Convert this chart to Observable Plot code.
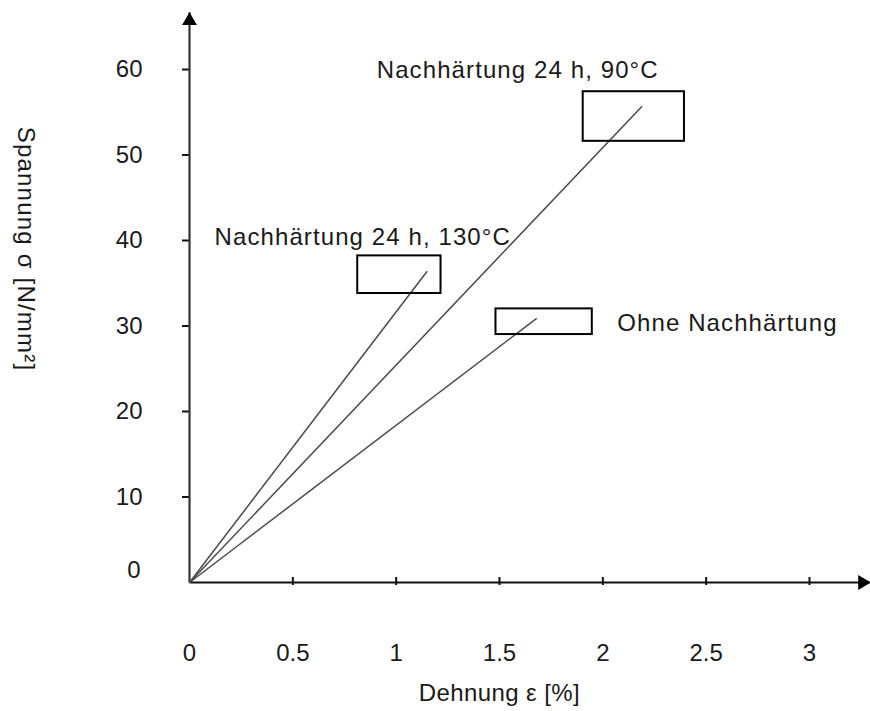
<!DOCTYPE html>
<html>
<head>
<meta charset="utf-8">
<script src="https://cdn.jsdelivr.net/npm/d3@7"></script>
<script src="https://cdn.jsdelivr.net/npm/@observablehq/plot@0.6"></script>
<style>
  html, body { margin: 0; padding: 0; background: #fff; }
  #chart svg { display: block; }
</style>
</head>
<body>
<div id="chart"></div>
<script>
// Series (stress–strain lines from the origin)
const seriesNames = ["Nachhärtung 24 h, 90°C", "Nachhärtung 24 h, 130°C", "Ohne Nachhärtung"];
const strainEnd = [2.19, 1.15, 1.68];   // Dehnung ε [%]
const stressEnd = [55.7, 36.4, 30.9];   // Spannung σ [N/mm²]

// Failure boxes around the line ends
const boxStrainMin = [1.905, 0.814, 1.483];
const boxStrainMax = [2.395, 1.217, 1.949];
const boxStressMin = [51.6, 33.8, 29.0];
const boxStressMax = [57.4, 38.2, 32.0];

// Label anchors (data units)
const labelStrain = [0.906, 0.121, 2.07];
const labelStress = [59.9, 40.35, 30.3];

// Axis ticks and extents
const xTicks = [0, 0.5, 1, 1.5, 2, 2.5, 3];
const xTickLabels = ["0", "0.5", "1", "1.5", "2", "2.5", "3"];
const yTicks = [0, 10, 20, 30, 40, 50, 60];
const yTickLabels = ["0", "10", "20", "30", "40", "50", "60"];
const xAxisEnd = 3.29;
const yAxisEnd = 66.7;

const xTitle = "Dehnung ε [%]";
const yTitle = "Spannung σ [N/mm²]";

const series = seriesNames.map((name, i) => ({
  name, x: strainEnd[i], y: stressEnd[i],
  bx1: boxStrainMin[i], bx2: boxStrainMax[i], by1: boxStressMin[i], by2: boxStressMax[i],
  lx: labelStrain[i], ly: labelStress[i]
}));
const xT = xTicks.map((v, i) => ({v, label: xTickLabels[i]}));
const yT = yTicks.map((v, i) => ({v, label: yTickLabels[i]}));

const W = 870, H = 711;
const mL = 189, mR = 61, mT = 69, mB = 129;
const frameW = W - mL - mR, frameH = H - mT - mB;
const font = "Liberation Sans, Arial, sans-serif";
const fs = 24;
const ink = "#1a1a1a";

const chart = Plot.plot({
  width: W,
  height: H,
  marginLeft: mL,
  marginRight: mR,
  marginTop: mT,
  marginBottom: mB,
  style: {fontFamily: font, background: "#fff", overflow: "visible"},
  x: {domain: [0, 3], axis: null},
  y: {domain: [0, 60], axis: null},
  marks: [
    // tick marks
    Plot.ruleX(xT.filter(d => d.v > 0), {x: "v", stroke: "#111", strokeWidth: 2, insetTop: frameH - 5, insetBottom: -3}),
    Plot.ruleY(yT.filter(d => d.v > 0), {y: "v", stroke: "#111", strokeWidth: 2, insetLeft: -7, insetRight: frameW}),
    // axis lines
    Plot.link([{}], {x1: 0, y1: 0, x2: xAxisEnd, y2: 0, stroke: "#111", strokeWidth: 2}),
    Plot.link([{}], {x1: 0, y1: 0, x2: 0, y2: yAxisEnd, stroke: "#333", strokeWidth: 2.2}),
    Plot.dot([{}], {x: xAxisEnd, y: 0, symbol: "triangle", r: 5.5, rotate: 90, fill: "#000", stroke: "none", dx: -7}),
    Plot.dot([{}], {x: 0, y: yAxisEnd, symbol: "triangle", r: 5.5, fill: "#000", stroke: "none", dy: 8.5}),
    // series lines
    Plot.link(series, {x1: 0, y1: 0, x2: "x", y2: "y", stroke: "#4a4a4a", strokeWidth: 1.5}),
    // boxes
    Plot.rect(series, {x1: "bx1", x2: "bx2", y1: "by1", y2: "by2", fill: "none", stroke: "#000", strokeWidth: 2}),
    // annotations
    Plot.text(series, {x: "lx", y: "ly", text: "name", textAnchor: "start", fontSize: fs, fill: ink}),
    // tick labels
    Plot.text(xT, {x: "v", y: 0, text: "label", dy: 71, fontSize: fs, fill: ink}),
    Plot.text(yT.filter(d => d.v > 0), {x: 0, y: "v", text: "label", dx: -47, textAnchor: "end", fontSize: fs, fill: ink}),
    Plot.text(yT.filter(d => d.v === 0), {x: 0, y: "v", text: "label", dx: -49, dy: -12, textAnchor: "end", fontSize: fs, fill: ink}),
    // axis titles
    Plot.text([xTitle], {frameAnchor: "bottom", textAnchor: "middle", lineAnchor: "middle", dy: 111, dx: 0, text: d => d, fontSize: fs, fill: ink}),
    Plot.text([yTitle], {frameAnchor: "left", textAnchor: "middle", lineAnchor: "middle", dx: -164, dy: -77, rotate: 90, text: d => d, fontSize: fs, fill: ink})
  ]
});

// letter spacing to match the wider lettering of the original
d3.select(chart).selectAll("text").each(function () {
  const t = this.textContent;
  if (seriesNames.includes(t)) this.style.letterSpacing = "1.1px";
  else if (t === yTitle) this.style.letterSpacing = "1.2px";
  else if (t === xTitle) this.style.letterSpacing = "0.4px";
});
document.getElementById("chart").appendChild(chart);
</script>
</body>
</html>
